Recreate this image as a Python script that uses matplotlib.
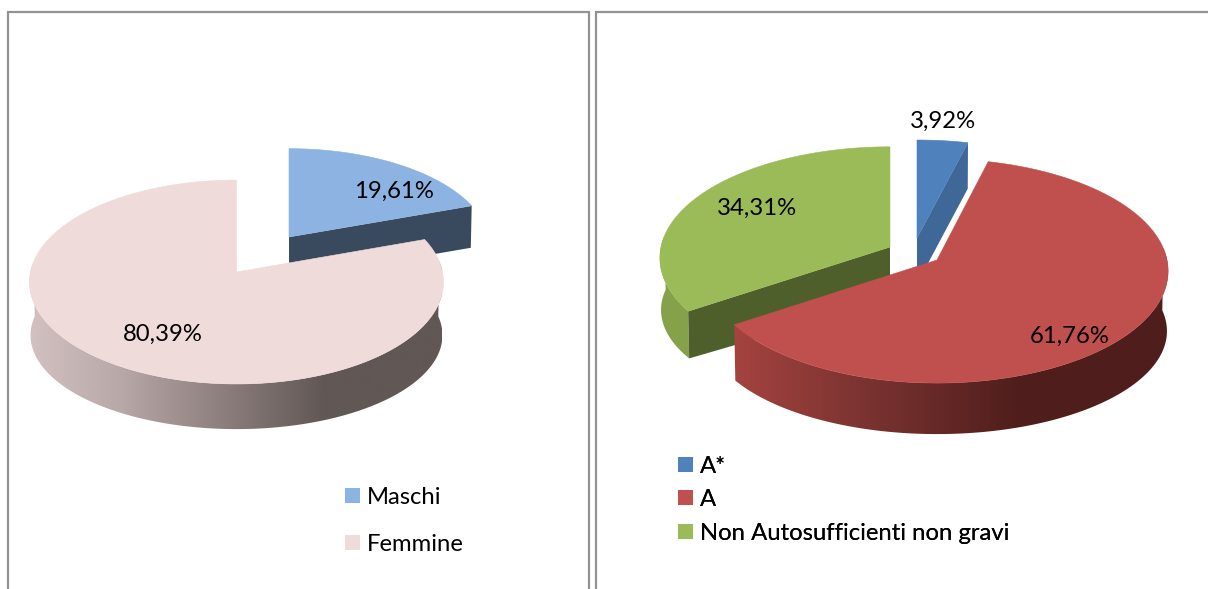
import numpy as np
import matplotlib
matplotlib.use("Agg")
import matplotlib.pyplot as plt
from matplotlib.patches import Polygon, Patch
from matplotlib.colors import LinearSegmentedColormap

plt.rcParams['font.family'] = ['Lato', 'DejaVu Sans']

# ---- data ----
gender_labels = ["Maschi", "Femmine"]
gender_values = [19.61, 80.39]
gender_text = ["19,61%", "80,39%"]
gender_colors = ["#8DB3E2", "#F0DBDB"]

care_labels = ["A*", "A", "Non Autosufficienti non gravi"]
care_values = [3.92, 61.76, 34.31]
care_text = ["3,92%", "61,76%", "34,31%"]
care_colors = ["#4F81BD", "#C0504D", "#9BBB59"]

PERSP = 0.098
W, H = 1208, 589

fig = plt.figure(figsize=(W / 100, H / 100), dpi=100)
ax = fig.add_axes([0, 0, 1, 1])
ax.axis("off")


def rim(theta, apex, rx, ry):
    t = np.radians(theta)
    w = 1 + PERSP * np.cos(t)
    return apex[0] + rx * np.sin(t) / w, apex[1] - ry * np.cos(t) / w


def spans(values):
    total = sum(values)
    edges = np.concatenate([[0], np.cumsum(values)]) / total * 360
    return list(zip(edges[:-1], edges[1:]))


def draw_slice(span, apex, rx, ry, drop, ry_bot, color, stops=None, cut=None, cut_color=None, z=1):
    a, b = span
    low = (apex[0], apex[1] + drop)
    rx_bot = rx * 0.995
    th = np.linspace(a, b, 240)
    xs, ys = rim(th, apex, rx, ry)
    # curved outer wall, shaded from left to right
    lo, hi = max(a, 84), min(b, 276)
    if stops is not None and hi > lo:
        tw = np.linspace(lo, hi, 200)
        xt, yt = rim(tw, apex, rx, ry)
        xb, yb = rim(tw, low, rx_bot, ry_bot)
        poly = Polygon(np.r_[np.c_[xt, yt], np.c_[xb, yb][::-1]], closed=True,
                       fc="none", ec="none", transform=ax.transData)
        ax.add_patch(poly)
        x0, x1 = stops[0][0], stops[-1][0]
        cmap = LinearSegmentedColormap.from_list(
            "wall", [((p - x0) / (x1 - x0), c) for p, c in stops])
        im = ax.imshow(np.linspace(0, 1, 512)[None, :], cmap=cmap, aspect="auto",
                       extent=[x0, x1, H, 0], zorder=z, interpolation="bilinear")
        im.set_clip_path(poly)
    # flat cut face
    if cut is not None:
        ang = a if cut == "start" else b
        p = rim(ang, apex, rx, ry)
        q = rim(ang, low, rx_bot, ry_bot)
        ax.add_patch(Polygon([apex, p, q, low], closed=True, fc=cut_color,
                             ec="none", zorder=z + 0.1))
    # top face
    ax.add_patch(Polygon(np.r_[[apex], np.c_[xs, ys]], closed=True, fc=color,
                         ec=color, lw=0.4, zorder=z + 0.2))


# ---- panel frames ----
frame = "#929292"
ax.plot([7.5, 7.5, 589, 589], [H, 12, 12, H], color=frame, lw=1.6, solid_joinstyle="miter", zorder=0)
ax.plot([596, 596, W], [H, 12, 12], color=frame, lw=1.6, solid_joinstyle="miter", zorder=0)

# ---- left pie ----
s_m, s_f = spans(gender_values)
draw_slice(s_m, (289, 237), 200, 97, 42, 97, gender_colors[0], cut="end", cut_color="#394A5E", z=1)
draw_slice(s_f, (236.5, 272), 206, 101, 54, 93, gender_colors[1],
           stops=[(29, "#D2C1C0"), (120, "#B8A8A7"), (237, "#867978"), (325, "#615755"), (442, "#615755")], z=2)

# ---- right pie ----
s_a, s_b, s_c = spans(care_values)
draw_slice(s_a, (917, 238), 229, 107.6, 46, 107.6, care_colors[0], cut="end", cut_color="#3F6797", z=1)
draw_slice(s_c, (890, 247), 229, 110, 53, 100, care_colors[2],
           stops=[(655, "#85A24B"), (700, "#85A24B")], cut="start", cut_color="#4F5F2C", z=2)
apex_b = (937, 260)
ex, ey = rim(s_b[0], apex_b, 230, 111)
ax.plot([apex_b[0] - 2, ex - 2], [apex_b[1] + 4, ey], color="white", lw=3, zorder=3.9)
draw_slice(s_b, apex_b, 230, 111, 61, 102, care_colors[1],
           stops=[(733, "#A5433F"), (865, "#7A3331"), (1020, "#4F1E1C"), (1170, "#4F1E1C")], z=4)

# ---- value labels ----
FS = 17.2
for txt, (x, y) in zip(gender_text, [(394, 191), (163, 334)]):
    ax.text(x, y, txt, ha="center", va="center", fontsize=FS, color="black", zorder=10)
for txt, (x, y) in zip(care_text, [(943, 121), (1070, 336), (757, 208)]):
    ax.text(x, y, txt, ha="center", va="center", fontsize=FS, color="black", zorder=10)

# ---- legends ----
def legend(labels, colors, corner, spacing):
    handles = [Patch(fc=c, ec="none") for c in colors]
    lg = ax.legend(handles, labels, loc="upper left", bbox_to_anchor=corner,
                   bbox_transform=ax.transData, frameon=False, fontsize=FS,
                   borderpad=0, borderaxespad=0, handlelength=0.63, handleheight=0.6,
                   handletextpad=0.3, labelspacing=spacing, labelcolor="black")
    lg.set_zorder(10)
    ax.add_artist(lg)


legend(gender_labels, gender_colors, (345, 487), 1.10)
legend(care_labels, care_colors, (678, 456), 0.515)

ax.set_xlim(0, W)
ax.set_ylim(H, 0)
fig.savefig("out.png", dpi=100, facecolor="white")
